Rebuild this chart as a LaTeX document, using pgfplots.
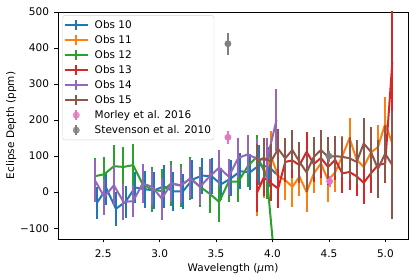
\documentclass[border=0pt]{standalone}
\usepackage{pgfplots}
\pgfplotsset{compat=1.18}
\usepackage{fontspec}
\setmainfont{DejaVu Sans}
\definecolor{c0}{HTML}{1F77B4}
\definecolor{c1}{HTML}{FF7F0E}
\definecolor{c2}{HTML}{2CA02C}
\definecolor{c3}{HTML}{D62728}
\definecolor{c4}{HTML}{9467BD}
\definecolor{c5}{HTML}{8C564B}
\definecolor{c6}{HTML}{E377C2}
\definecolor{c7}{HTML}{7F7F7F}
\pgfplotsset{
  ebar/.style={line width=2pt, mark=none,
    error bars/.cd, y dir=both, y explicit, error mark=none,
    error bar style={line width=2pt}, /pgfplots/.cd},
  ebarleg/.style={legend image code/.code={
    \draw[##1,line width=2pt] (2pt,0pt) -- (25pt,0pt);
    \draw[##1,line width=2pt] (13.5pt,-5pt) -- (13.5pt,5pt);
    \path (29pt,0pt);}},
  ptleg/.style={legend image code/.code={
    \draw[##1,line width=2pt] (13.5pt,-5pt) -- (13.5pt,5pt);
    \fill[##1] (13.5pt,0pt) circle (3.2pt);
    \path (2pt,0pt) (29pt,0pt);}},
}
\begin{document}
\begin{tikzpicture}
\useasboundingbox (-58pt,-41pt) rectangle (358pt,239pt);
\begin{axis}[
  at={(0pt,0pt)}, anchor=south west,
  width=350pt, height=227pt, scale only axis,
  xmin=2.1, xmax=5.2, ymin=-130, ymax=500,
  xtick={2.5,3.0,3.5,4.0,4.5,5.0},
  xticklabels={2.5,3.0,3.5,4.0,4.5,5.0},
  ytick={-100,0,100,200,300,400,500},
  yticklabels={−100,0,100,200,300,400,500},
  tick align=outside, xtick pos=bottom, ytick pos=left,
  major tick length=3.5pt,
  xticklabel shift=3.5pt, yticklabel shift=2pt,
  every tick/.style={black, line width=0.8pt},
  axis line style={line width=0.8pt},
  tick label style={font=\fontsize{10.5}{12}\selectfont},
  label style={font=\fontsize{10.5}{12}\selectfont},
  xlabel={Wavelength (\textit{μ}m)},
  ylabel={Eclipse Depth (ppm)},
  xlabel style={yshift=1pt},
  ylabel style={yshift=-3pt},
  legend cell align=left,
  legend style={at={(0.013,0.985)}, anchor=north west,
    draw=black!18, rounded corners=2pt, fill=white, fill opacity=0.8, text opacity=1,
    font=\fontsize{10.5}{12}\selectfont, row sep=1.5pt, inner xsep=1pt, inner ysep=3pt},
]
\addplot[c0, ebarleg, ebar] table[x=x,y=y,y error=e] {
x y e
2.444 -30 45
2.529 10 46
2.613 -46 47
2.698 -27 45
2.783 13 42
2.868 8 52
2.952 5 52
3.037 16 60
3.122 2 53
3.206 2 48
3.291 35 55
3.376 46 50
3.460 44 50
3.545 22 45
3.630 38 50
3.715 58 50
3.799 55 50
3.884 75 55
3.969 70 55
4.053 45 75
};
\addlegendentry{Obs 10}
\addplot[c1, ebarleg, ebar] table[x=x,y=y,y error=e] {
x y e
3.860 -5 60
3.923 40 55
3.986 100 70
4.050 45 55
4.113 33 55
4.176 15 55
4.239 43 55
4.302 0 55
4.366 52 55
4.429 80 60
4.492 33 60
4.555 55 55
4.618 100 55
4.682 150 55
4.745 90 55
4.808 70 55
4.871 110 55
4.934 125 60
4.998 190 75
5.061 135 75
};
\addlegendentry{Obs 11}
\addplot[c2, ebarleg, ebar] table[x=x,y=y,y error=e] {
x y e
2.426 44 50
2.511 50 48
2.595 72 58
2.680 70 56
2.765 75 58
2.850 22 52
2.934 7 62
3.019 3 60
3.104 24 62
3.188 18 60
3.273 38 60
3.358 15 55
3.442 -4 55
3.527 -27 55
3.612 29 55
3.697 29 55
3.781 72 58
3.866 100 60
3.951 40 60
4.035 -250 70
};
\addlegendentry{Obs 12}
\addplot[c3, ebarleg, ebar] table[x=x,y=y,y error=e] {
x y e
3.860 0 55
3.923 40 50
3.986 25 50
4.050 10 55
4.113 84 55
4.176 88 50
4.239 75 50
4.302 112 55
4.366 78 50
4.429 95 55
4.492 70 50
4.555 90 55
4.618 52 55
4.682 56 50
4.745 44 55
4.808 26 60
4.871 52 55
4.934 75 55
4.998 80 55
5.061 360 160
};
\addlegendentry{Obs 13}
\addplot[c4, ebarleg, ebar] table[x=x,y=y,y error=e] {
x y e
2.426 33 60
2.511 -13 50
2.595 19 55
2.680 -27 50
2.765 -25 45
2.850 24 55
2.934 15 50
3.019 -18 58
3.104 24 50
3.188 19 50
3.273 38 55
3.358 15 50
3.442 43 50
3.527 68 50
3.612 43 50
3.697 95 55
3.781 105 55
3.866 92 55
3.951 89 60
4.035 200 85
};
\addlegendentry{Obs 14}
\addplot[c5, ebarleg, ebar] table[x=x,y=y,y error=e] {
x y e
3.860 85 50
3.923 95 55
3.986 85 50
4.050 120 55
4.113 94 55
4.176 117 55
4.239 84 55
4.302 55 55
4.366 98 55
4.429 117 55
4.492 98 55
4.555 100 55
4.618 98 55
4.682 94 60
4.745 84 60
4.808 135 70
4.871 112 70
4.934 65 80
4.998 107 80
5.061 75 150
};
\addlegendentry{Obs 15}
\addplot[c6, only marks, mark=*, mark size=3.2pt, ptleg,
  error bars/.cd, y dir=both, y explicit, error mark=none,
  error bar style={line width=2pt}] table[x=x,y=y,y error=e] {
x y e
3.605 152 18
4.506 30 15
};
\addlegendentry{Morley et al. 2016}
\addplot[c7, only marks, mark=*, mark size=3.2pt, ptleg,
  error bars/.cd, y dir=both, y explicit, error mark=none,
  error bar style={line width=2pt}] table[x=x,y=y,y error=e] {
x y e
3.605 412 30
4.500 100 15
};
\addlegendentry{Stevenson et al. 2010}
\end{axis}
\end{tikzpicture}
\end{document}
